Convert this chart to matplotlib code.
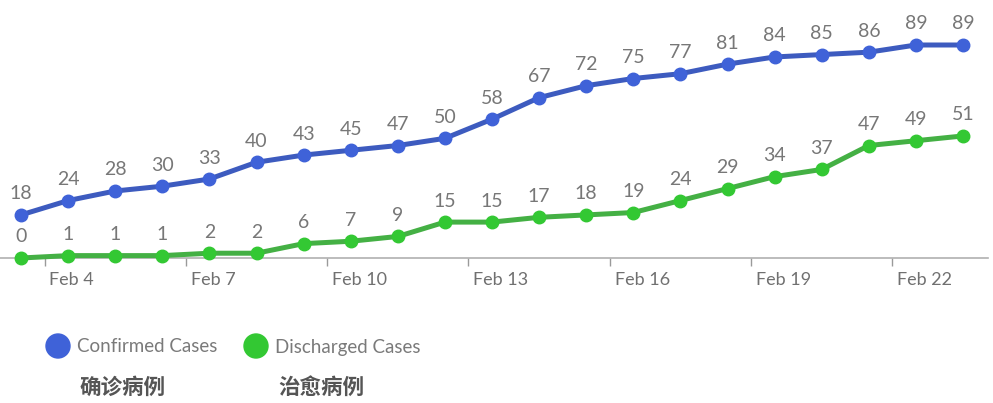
import matplotlib
matplotlib.use("Agg")
import matplotlib.pyplot as plt
import numpy as np

days = list(range(3, 24))  # Feb 3 .. Feb 23
confirmed = [18, 24, 28, 30, 33, 40, 43, 45, 47, 50, 58, 67, 72, 75, 77, 81, 84, 85, 86, 89, 89]
discharged = [0, 1, 1, 1, 2, 2, 6, 7, 9, 15, 15, 17, 18, 19, 24, 29, 34, 37, 47, 49, 51]
tick_days = [4, 7, 10, 13, 16, 19, 22]
tick_labels = [f"Feb {d}" for d in tick_days]
series_names = ["Confirmed Cases", "Discharged Cases"]
series_cn = ["确诊病例", "治愈病例"]

W, H = 993, 403
fig = plt.figure(figsize=(W / 100, H / 100), dpi=100)
fig.patch.set_facecolor("white")
ax = fig.add_axes([0, (H - 258) / H, 988 / W, 258 / H])

x = np.array(days) + 0.5
blue_line, blue_mk = "#3d5bbf", "#3f62d8"
green_line, green_mk = "#44b044", "#33c833"

for vals, lc, mc in [(confirmed, blue_line, blue_mk), (discharged, green_line, green_mk)]:
    ax.plot(x, vals, color=lc, lw=3.6, marker="o", markersize=9,
            markerfacecolor=mc, markeredgecolor=mc, clip_on=False, zorder=3)
    for xi, v in zip(x, vals):
        ax.annotate(str(v), (xi, v), xytext=(0, 9), textcoords="offset points",
                    ha="center", va="bottom", fontsize=14, color="#777777",
                    family="Lato")

ax.set_xlim(3.054, 24.03)
ax.set_ylim(0, 107.8)
for s in ["top", "right", "left"]:
    ax.spines[s].set_visible(False)
ax.spines["bottom"].set_color("#b0b0b0")
ax.spines["bottom"].set_linewidth(1.2)
ax.set_yticks([])
ax.set_xticks(tick_days)
ax.set_xticklabels([])
ax.tick_params(axis="x", length=6, width=1, color="#9a9a9a", direction="out")
for d, lab in zip(tick_days, tick_labels):
    ax.annotate(lab, (d, 0), xytext=(3.5, -16), textcoords="offset points",
                ha="left", va="center", fontsize=13, color="#707070",
                family="Lato", annotation_clip=False)

# legend
leg = [(58, blue_mk, 0), (256, green_mk, 1)]
for px, col, i in leg:
    fig.patches.append(matplotlib.patches.Ellipse((px / W, 1 - 346 / H), 24 / W, 24 / H,
                                                  transform=fig.transFigure, color=col))
    fig.text((px + 19) / W, 1 - 347 / H, series_names[i], ha="left", va="center",
             fontsize=13.5, color="#7a7a7a", family="Lato")
    fig.text((px + 22) / W, 1 - 387 / H, series_cn[i], ha="left", va="center",
             fontsize=15.5, color="#555555", family=["Noto Sans CJK SC", "DejaVu Sans"],
             fontweight="bold")

fig.savefig("out.png", dpi=100, facecolor="white")
